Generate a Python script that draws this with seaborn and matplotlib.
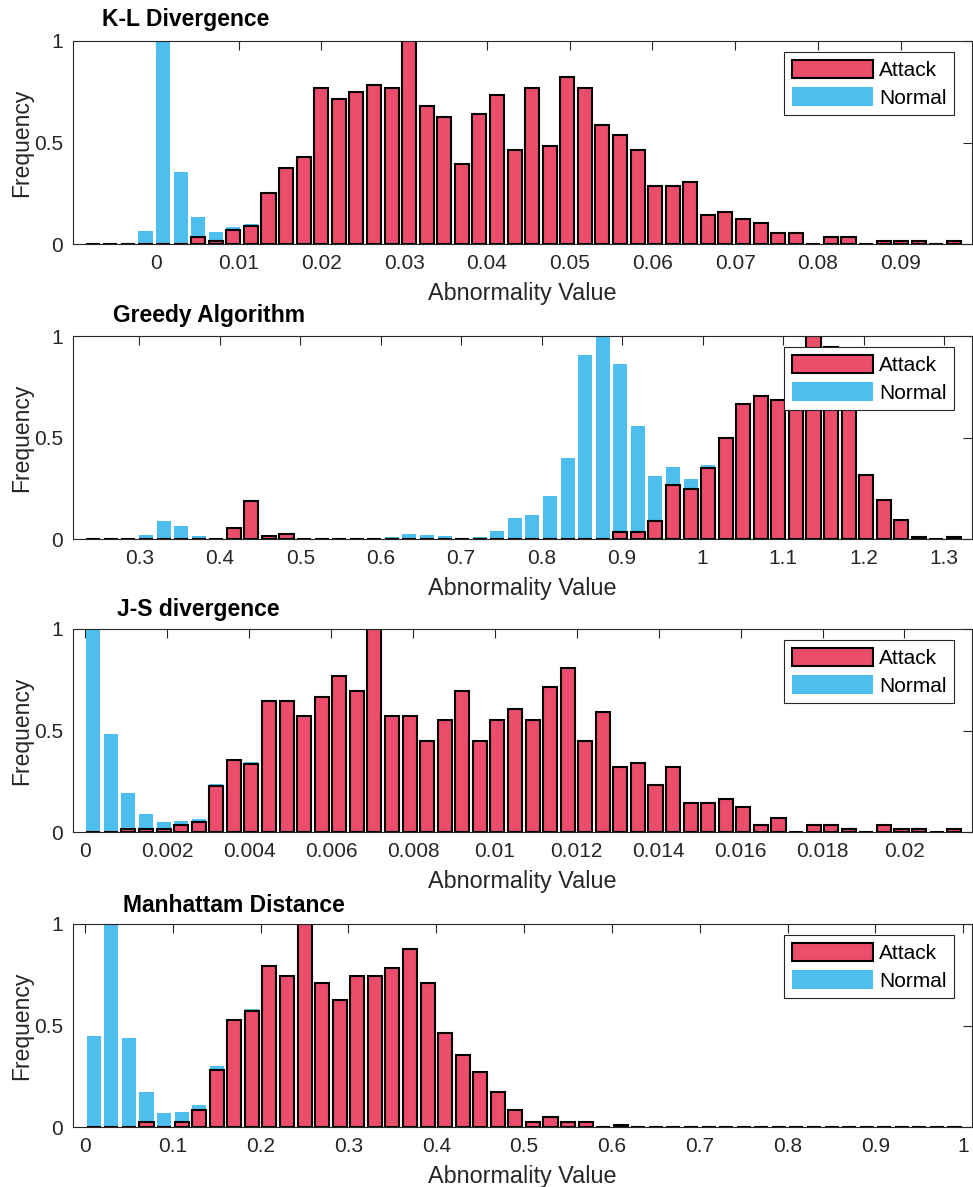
import numpy as np
import pandas as pd
import matplotlib
matplotlib.use("Agg")
import matplotlib.pyplot as plt
from matplotlib.patches import Patch
import seaborn as sns

N_BINS = 50

# ---------------- data ----------------
# K-L Divergence
kl_first_center = -0.00761
kl_bin_width = 0.002123
kl_attack = [0, 0, 0, 0, 0, 0, 0.036, 0.018, 0.071, 0.089,
             0.25, 0.375, 0.429, 0.768, 0.714, 0.75, 0.786, 0.768, 1.0, 0.679,
             0.625, 0.393, 0.643, 0.732, 0.464, 0.768, 0.482, 0.821, 0.768, 0.589,
             0.536, 0.464, 0.286, 0.286, 0.304, 0.143, 0.161, 0.125, 0.107, 0.054,
             0.054, 0, 0.036, 0.036, 0, 0.018, 0.018, 0.018, 0, 0.018]
kl_normal = [0, 0, 0, 0.064, 1.0, 0.356, 0.134, 0.059, 0.084, 0.098,
             0.258, 0.382, 0.432, 0, 0, 0, 0, 0, 0, 0,
             0, 0, 0, 0, 0, 0, 0, 0, 0, 0,
             0, 0, 0, 0, 0, 0, 0, 0, 0, 0,
             0, 0, 0, 0, 0, 0, 0, 0, 0, 0]
kl_xticks = [0, 0.01, 0.02, 0.03, 0.04, 0.05, 0.06, 0.07, 0.08, 0.09]
kl_xticklabels = ["0", "0.01", "0.02", "0.03", "0.04", "0.05", "0.06", "0.07", "0.08", "0.09"]
kl_xlim = (-0.0100, 0.0986)

# Greedy Algorithm
gr_first_center = 0.2428
gr_bin_width = 0.02183
gr_attack = [0, 0, 0, 0, 0, 0, 0, 0, 0.056, 0.187,
             0.018, 0.027, 0, 0, 0, 0, 0, 0, 0, 0,
             0, 0, 0, 0, 0, 0, 0, 0, 0, 0,
             0.036, 0.036, 0.091, 0.265, 0.248, 0.351, 0.497, 0.667, 0.704, 0.684,
             0.80, 1.0, 0.947, 0.75, 0.315, 0.192, 0.093, 0.012, 0, 0.012]
gr_normal = [0, 0, 0.007, 0.022, 0.091, 0.066, 0.018, 0.007, 0, 0,
             0, 0, 0, 0, 0, 0, 0, 0.012, 0.027, 0.020,
             0.015, 0.008, 0.013, 0.040, 0.104, 0.119, 0.214, 0.402, 0.907, 1.0,
             0.864, 0.555, 0.310, 0.358, 0.295, 0.364, 0.505, 0, 0, 0,
             0, 0, 0, 0, 0, 0, 0, 0, 0, 0]
gr_xticks = [0.3, 0.4, 0.5, 0.6, 0.7, 0.8, 0.9, 1.0, 1.1, 1.2, 1.3]
gr_xticklabels = ["0.3", "0.4", "0.5", "0.6", "0.7", "0.8", "0.9", "1", "1.1", "1.2", "1.3"]
gr_xlim = (0.2176, 1.3348)

# J-S divergence
js_first_center = 0.000195
js_bin_width = 0.000429
js_attack = [0, 0, 0.015, 0.015, 0.015, 0.034, 0.052, 0.23, 0.356, 0.338,
             0.644, 0.644, 0.574, 0.664, 0.769, 0.697, 1.0, 0.574, 0.574, 0.448,
             0.554, 0.697, 0.448, 0.554, 0.608, 0.554, 0.716, 0.807, 0.448, 0.59,
             0.323, 0.341, 0.233, 0.323, 0.143, 0.143, 0.162, 0.126, 0.036, 0.072,
             0, 0.036, 0.036, 0.018, 0, 0.036, 0.018, 0.018, 0, 0.018]
js_normal = [1.0, 0.484, 0.193, 0.09, 0.049, 0.056, 0.066, 0.238, 0.36, 0.344,
             0, 0, 0, 0, 0, 0, 0, 0, 0, 0,
             0, 0, 0, 0, 0, 0, 0, 0, 0, 0,
             0, 0, 0, 0, 0, 0, 0, 0, 0, 0,
             0, 0, 0, 0, 0, 0, 0, 0, 0, 0]
js_xticks = [0, 0.002, 0.004, 0.006, 0.008, 0.01, 0.012, 0.014, 0.016, 0.018, 0.02]
js_xticklabels = ["0", "0.002", "0.004", "0.006", "0.008", "0.01", "0.012", "0.014",
                  "0.016", "0.018", "0.02"]
js_xlim = (-0.0003, 0.02165)

# Manhattam Distance
md_first_center = 0.01
md_bin_width = 0.02
md_attack = [0, 0, 0, 0.026, 0, 0.025, 0.085, 0.28, 0.526, 0.574,
             0.793, 0.746, 1.0, 0.71, 0.625, 0.746, 0.746, 0.782, 0.879, 0.71,
             0.464, 0.356, 0.27, 0.172, 0.085, 0.025, 0.049, 0.026, 0.026, 0,
             0.013, 0, 0, 0, 0, 0, 0, 0, 0, 0,
             0, 0, 0, 0, 0, 0, 0, 0, 0, 0]
md_normal = [0.449, 1.0, 0.441, 0.172, 0.069, 0.074, 0.111, 0.30, 0.533, 0.58,
             0, 0, 0, 0, 0, 0, 0, 0, 0, 0,
             0, 0, 0, 0, 0, 0, 0, 0, 0, 0,
             0, 0, 0, 0, 0, 0, 0, 0, 0, 0,
             0, 0, 0, 0, 0, 0, 0, 0, 0, 0]
md_xticks = [0, 0.1, 0.2, 0.3, 0.4, 0.5, 0.6, 0.7, 0.8, 0.9, 1.0]
md_xticklabels = ["0", "0.1", "0.2", "0.3", "0.4", "0.5", "0.6", "0.7", "0.8", "0.9", "1"]
md_xlim = (-0.01366, 1.0099)

titles = ["K-L Divergence", "Greedy Algorithm", "J-S divergence", "Manhattam Distance"]
series_labels = ["Attack", "Normal"]
yticks = [0, 0.5, 1]
yticklabels = ["0", "0.5", "1"]

# ---------------- style ----------------
RED = "#EC4D6B"
BLUE = "#4DBEEE"
GRAY = "#262626"

sns.set_style("white")
plt.rcParams["font.family"] = ["Liberation Sans", "DejaVu Sans"]

W, H = 973, 1187
fig = plt.figure(figsize=(W / 100, H / 100), dpi=100)
fig.patch.set_facecolor("white")

panels = [
    (kl_first_center, kl_bin_width, kl_attack, kl_normal, kl_xlim, kl_xticks, kl_xticklabels),
    (gr_first_center, gr_bin_width, gr_attack, gr_normal, gr_xlim, gr_xticks, gr_xticklabels),
    (js_first_center, js_bin_width, js_attack, js_normal, js_xlim, js_xticks, js_xticklabels),
    (md_first_center, md_bin_width, md_attack, md_normal, md_xlim, md_xticks, md_xticklabels),
]
ax_tops = [41, 336, 629, 924]
ax_left, ax_right, ax_h = 73, 972, 203.3
ax_w = ax_right - ax_left
title_left_px = [101.7, 113, 117, 122.7]
title_gap_px = [15, 14, 13, 12]

for i, (first, width, attack, normal, xlim, xticks, xtl) in enumerate(panels):
    top = ax_tops[i]
    ax = fig.add_axes([ax_left / W, 1 - (top + ax_h) / H, ax_w / W, ax_h / H])
    centers = first + width * np.arange(N_BINS)
    edges = [float(e) for e in np.append(centers - width / 2, centers[-1] + width / 2)]
    df = pd.DataFrame({"center": centers, "normal": normal, "attack": attack})
    sns.histplot(data=df, x="center", weights="normal", bins=edges, shrink=0.8,
                 color=BLUE, edgecolor="none", linewidth=0, alpha=1, ax=ax)
    sns.histplot(data=df, x="center", weights="attack", bins=edges, shrink=0.8,
                 color=RED, edgecolor="black", linewidth=1.5, alpha=1, ax=ax)
    ax.set_xlim(*xlim)
    ax.set_ylim(0, 1)
    ax.set_xticks(xticks)
    ax.set_xticklabels(xtl)
    ax.set_yticks(yticks)
    ax.set_yticklabels(yticklabels)
    for sp in ax.spines.values():
        sp.set_visible(True)
        sp.set_color(GRAY)
        sp.set_linewidth(0.8)
    ax.tick_params(axis="both", direction="in", length=6.5, width=0.8, color=GRAY,
                   labelsize=15, labelcolor=GRAY, top=True, right=True,
                   labeltop=False, labelright=False)
    ax.tick_params(axis="x", pad=7)
    ax.tick_params(axis="y", pad=7)
    ax.set_xlabel("Abnormality Value", fontsize=16.8, color=GRAY)
    ax.set_ylabel("Frequency", fontsize=16.5, color=GRAY)
    ax.xaxis.set_label_coords(0.5, -0.183)
    ax.yaxis.set_label_coords(-0.0445, 0.5)
    ax.text((title_left_px[i] - ax_left) / ax_w, 1 + title_gap_px[i] / ax_h,
            titles[i], transform=ax.transAxes, ha="left", va="baseline",
            fontsize=16.5, fontweight="bold", color="black")
    handles = [Patch(facecolor=RED, edgecolor="black", linewidth=1.5, label=series_labels[0]),
               Patch(facecolor=BLUE, edgecolor="none", label=series_labels[1])]
    leg = ax.legend(handles=handles, loc="upper right",
                    bbox_to_anchor=((954 - ax_left) / ax_w, 1 - 11.3 / ax_h),
                    borderaxespad=0, fancybox=False, framealpha=1,
                    edgecolor=GRAY, fontsize=15, handlelength=3.9, handleheight=1.0,
                    handletextpad=0.3, borderpad=0.35, labelspacing=0.35)
    leg.get_frame().set_linewidth(0.8)
    for t in leg.get_texts():
        t.set_color("black")

fig.savefig("out.png", dpi=100)
